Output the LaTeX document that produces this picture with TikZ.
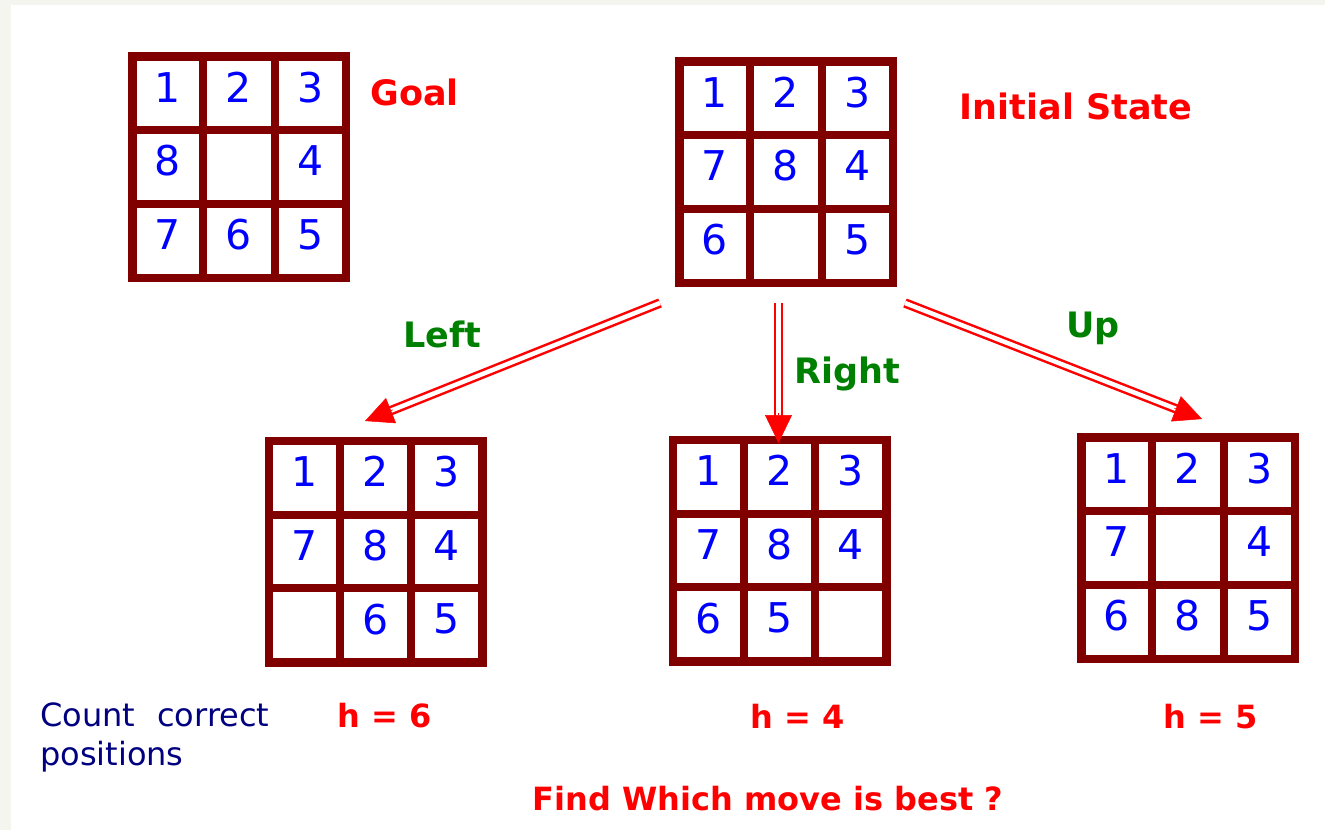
\documentclass[tikz,border=0pt]{standalone}
\usepackage{fontspec}
\setmainfont{DejaVu Sans}
\usetikzlibrary{positioning, calc, arrows.meta}
\definecolor{BoardRed}{RGB}{128, 0, 0}
\definecolor{TileBlue}{RGB}{0, 0, 255}
\definecolor{MoveGreen}{RGB}{0, 128, 0}
\definecolor{NoteBlue}{RGB}{0, 0, 128}
\definecolor{EdgeGray}{RGB}{245, 245, 240}

\tikzset{
  board/.style={draw=BoardRed, line width=8.5pt, minimum width=213.5pt, minimum height=221.5pt, outer sep=0pt, inner sep=0pt},
  gridline/.style={BoardRed, line width=8pt},
  tile/.style={text=TileBlue, font=\fontsize{41}{41}\selectfont, inner sep=0pt, yshift=6pt},
  title/.style={text=red, font=\bfseries\fontsize{35}{42}\selectfont, inner sep=0pt, anchor=base},
  move/.style={text=MoveGreen, font=\bfseries\fontsize{35}{42}\selectfont, inner sep=0pt, anchor=base},
  score/.style={text=red, font=\bfseries\fontsize{32}{38}\selectfont, inner sep=0pt, anchor=base},
  dblshaft/.style={draw=red, line width=2.5pt, double=white, double distance=4.5pt, shorten >=26pt},
  headtip/.style={red, line width=0.5pt, -{Triangle[length=28pt, width=27pt]}},
}

% one 8-puzzle board: name, centre x, centre y, the nine tiles
\newcommand{\puzzle}[4]{%
  \node[board] (#1) at (#2,#3) {};
  \foreach \c in {1,2}
    \draw[gridline] ($(#1.north west)!\c/3!(#1.north east)$) -- ($(#1.south west)!\c/3!(#1.south east)$);
  \foreach \r in {1,2}
    \draw[gridline] ($(#1.north west)!\r/3!(#1.south west)$) -- ($(#1.north east)!\r/3!(#1.south east)$);
  \foreach \v [count=\i from 0] in {#4} {
    \pgfmathtruncatemacro\row{int(\i/3)}
    \pgfmathtruncatemacro\col{mod(\i,3)}
    \node[tile] (#1-\i) at ($(#1.north west)+({(\col+0.5)*71.17},{(\row+0.5)*73.83})$) {\v};
  }
}

\begin{document}
\begin{tikzpicture}[x=1pt, y=-1pt]
  \useasboundingbox (0,0) rectangle (1325,830);
  \fill[EdgeGray] (0,0) rectangle (1325,830);
  \fill[white] (11,5) rectangle (1325,830);

  % boards
  \puzzle{goal}{239}{167}{1,2,3,8,,4,7,6,5}
  \puzzle{init}{786}{172}{1,2,3,7,8,4,6,,5}
  \puzzle{left}{375.5}{551.5}{1,2,3,7,8,4,,6,5}
  \puzzle{mid}{779.5}{550.5}{1,2,3,7,8,4,6,5,}
  \puzzle{right}{1188}{548}{1,2,3,7,,4,6,8,5}

  \node[title] (goal-lbl) at (414.5,105) {Goal};
  \node[title] (init-lbl) at (1076,119) {Initial State};

  % moves
  \coordinate (left-from) at (660,303);
  \coordinate (left-to) at (365,421);
  \coordinate (mid-from) at (778.5,303);
  \coordinate (mid-to) at (778.5,443);
  \coordinate (right-from) at (905,303);
  \coordinate (right-to) at (1202,419);
  \foreach \m in {left, mid, right} {
    \draw[dblshaft] (\m-from) -- (\m-to);
    \draw[headtip] ($(\m-to)!30pt!(\m-from)$) -- (\m-to);
  }
  \node[move] (left-lbl) at (442,347) {Left};
  \node[move] (mid-lbl) at (847,383) {Right};
  \node[move] (right-lbl) at (1093,337) {Up};

  % heuristic values
  \node[text=NoteBlue, font=\fontsize{32}{39}\selectfont, align=left, inner sep=0pt, anchor=north west] (count) at (40,703) {Count\hspace{22pt}correct\\positions};
  \node[score] (left-h) at (385,727) {h = 6};
  \node[score] (mid-h) at (798,728) {h = 4};
  \node[score] (right-h) at (1211,728) {h = 5};
  \node[score] (question) at (768,810) {Find Which move is best ?};
\end{tikzpicture}
\end{document}
